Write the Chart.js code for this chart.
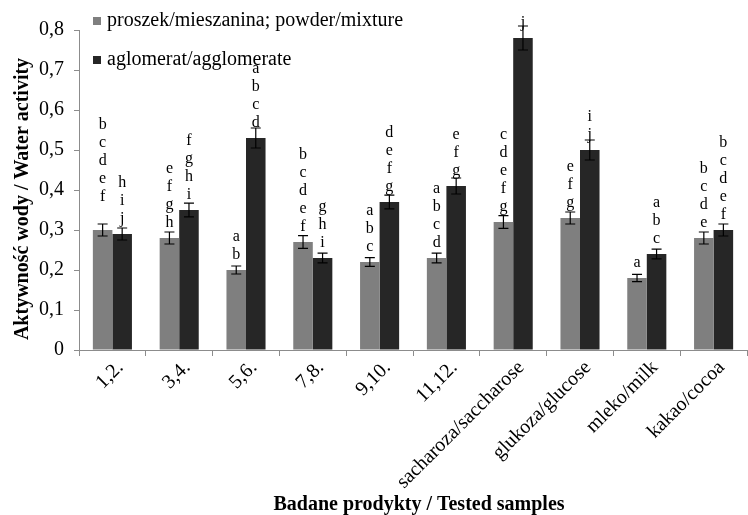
<!DOCTYPE html>
<html>
<head>
<meta charset="utf-8">
<script src="https://cdn.jsdelivr.net/npm/chart.js@4"></script>
<style>
html,body{margin:0;padding:0;background:#fff;}
#wrap{width:748px;height:515px;}
</style>
</head>
<body>
<div id="wrap"><canvas id="c" width="748" height="515"></canvas></div>
<script>
const categories = ['1,2.', '3,4.', '5,6.', '7,8.', '9,10.', '11,12.', 'sacharoza/saccharose', 'glukoza/glucose', 'mleko/milk', 'kakao/cocoa'];
const powderValues = [0.30, 0.28, 0.20, 0.27, 0.22, 0.23, 0.32, 0.33, 0.18, 0.28];
const agglomerateValues = [0.29, 0.35, 0.53, 0.23, 0.37, 0.41, 0.78, 0.50, 0.24, 0.30];
const powderErrors = [0.015, 0.015, 0.01, 0.016, 0.011, 0.012, 0.016, 0.015, 0.009, 0.015];
const agglomerateErrors = [0.015, 0.017, 0.025, 0.012, 0.017, 0.02, 0.03, 0.025, 0.012, 0.015];
const powderLetters = ['bcdef ', 'efgh', 'ab', 'bcdef', 'abc', 'abcd', 'cdefg', 'efg', 'a', 'bcde'];
const agglomerateLetters = ['hij', 'fghi', 'abcd', 'ghi', 'defg', 'efg', 'j', 'ij', 'abc', 'bcdef'];
const seriesLabels = ['proszek/mieszanina; powder/mixture', 'aglomerat/agglomerate'];
const yTicks = [0, 0.1, 0.2, 0.3, 0.4, 0.5, 0.6, 0.7, 0.8];
const xTitle = 'Badane prodykty / Tested samples';
const yTitle = 'Aktywność wody / Water activity';

const SERIF = '"Liberation Serif", "Times New Roman", serif';
const errorsBySet = [powderErrors, agglomerateErrors];
const lettersBySet = [powderLetters, agglomerateLetters];

const extrasPlugin = {
  id: 'extras',
  afterDatasetsDraw(chart) {
    const ctx = chart.ctx;
    const y = chart.scales.y;
    ctx.save();
    chart.data.datasets.forEach((ds, di) => {
      const meta = chart.getDatasetMeta(di);
      meta.data.forEach((bar, i) => {
        const v = ds.data[i];
        const e = errorsBySet[di][i];
        const yTop = y.getPixelForValue(v + e);
        const yBot = y.getPixelForValue(v - e);
        const x = bar.x;
        ctx.strokeStyle = '#000';
        ctx.lineWidth = 1.2;
        ctx.beginPath();
        ctx.moveTo(x, yTop); ctx.lineTo(x, yBot);
        ctx.moveTo(x - 5, yTop); ctx.lineTo(x + 5, yTop);
        ctx.moveTo(x - 5, yBot); ctx.lineTo(x + 5, yBot);
        ctx.stroke();
        const letters = lettersBySet[di][i].split('');
        ctx.fillStyle = '#000';
        ctx.font = '16px ' + SERIF;
        ctx.textAlign = 'center';
        ctx.textBaseline = 'alphabetic';
        const n = letters.length;
        const base = bar.y - 11;
        letters.forEach((ch, k) => {
          ctx.fillText(ch, x, base - (n - 1 - k) * 18);
        });
      });
    });
    // legend
    const lx = 93;
    const rows = [21, 60];
    ctx.font = '20px ' + SERIF;
    ctx.textAlign = 'left';
    ctx.textBaseline = 'middle';
    chart.data.datasets.forEach((ds, di) => {
      ctx.fillStyle = ds.backgroundColor;
      ctx.fillRect(lx, rows[di] - 4, 8, 8);
      ctx.fillStyle = '#000';
      ctx.fillText(ds.label, lx + 14, rows[di]);
    });
    // axis titles
    ctx.font = 'bold 20px ' + SERIF;
    ctx.textAlign = 'center';
    ctx.textBaseline = 'middle';
    ctx.fillText(xTitle, 419, 505);
    ctx.translate(23, 199);
    ctx.rotate(-Math.PI / 2);
    ctx.fillText(yTitle, 0, 0);
    ctx.restore();
  }
};

new Chart(document.getElementById('c'), {
  type: 'bar',
  data: {
    labels: categories,
    datasets: [
      { label: seriesLabels[0], data: powderValues, backgroundColor: '#7f7f7f', categoryPercentage: 0.585, barPercentage: 1.0 },
      { label: seriesLabels[1], data: agglomerateValues, backgroundColor: '#262626', categoryPercentage: 0.585, barPercentage: 1.0 }
    ]
  },
  options: {
    responsive: false,
    animation: false,
    devicePixelRatio: 1,
    layout: { padding: { top: 30, right: 1, left: 0, bottom: 0 } },
    plugins: { legend: { display: false }, tooltip: { enabled: false } },
    scales: {
      x: {
        afterFit(scale) { scale.height = 165; },
        grid: { display: true, drawOnChartArea: false, drawTicks: true, offset: true, tickLength: 6, color: '#8c8c8c' },
        border: { display: true, color: '#8c8c8c', width: 1 },
        ticks: { color: '#000', font: { family: SERIF, size: 20 }, minRotation: 45, maxRotation: 45, autoSkip: false, padding: 0, labelOffset: 8 }
      },
      y: {
        min: 0, max: 0.8,
        afterFit(scale) { scale.width = 79; },
        afterBuildTicks(scale) { scale.ticks = yTicks.map(v => ({ value: v })); },
        grid: { display: true, drawOnChartArea: false, drawTicks: true, tickLength: 5, color: '#8c8c8c' },
        border: { display: true, color: '#8c8c8c', width: 1 },
        ticks: { color: '#000', font: { family: SERIF, size: 20 }, padding: 10,
          callback: (v) => v === 0 ? '0' : Number(v).toFixed(1).replace('.', ',') }
      }
    }
  },
  plugins: [extrasPlugin]
});
</script>
</body>
</html>
